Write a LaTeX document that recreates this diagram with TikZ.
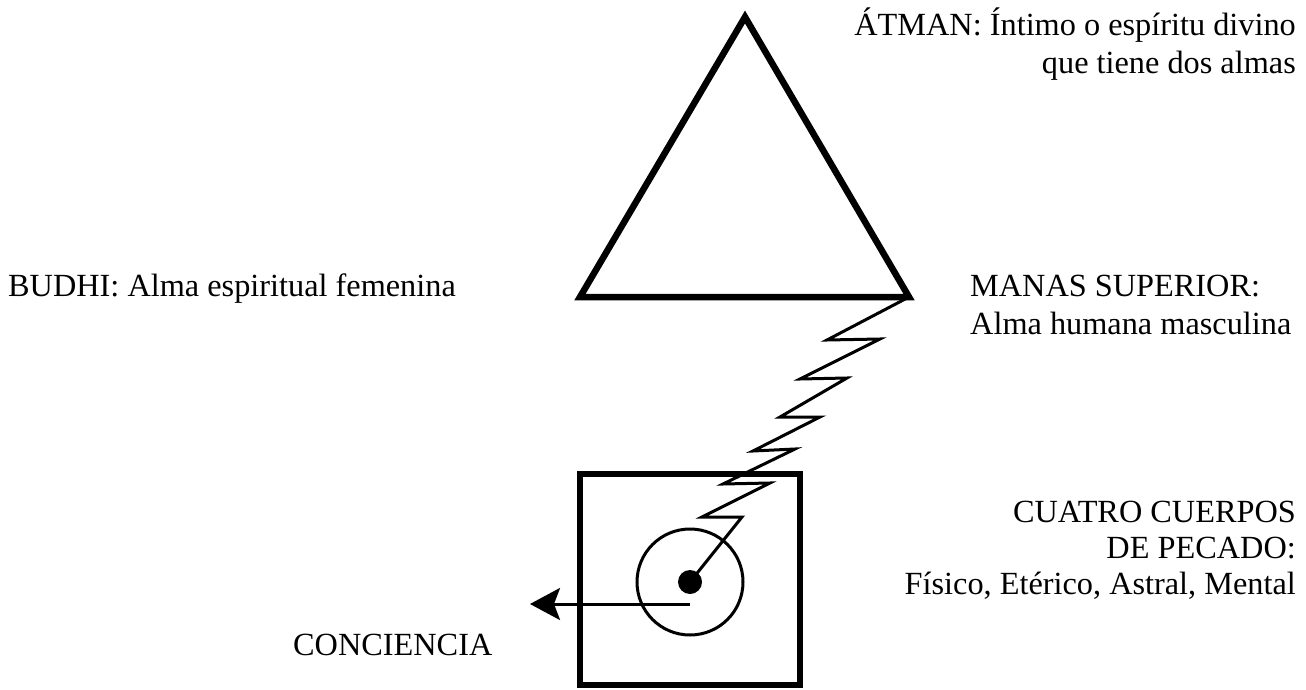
\documentclass[tikz,border=0pt]{standalone}
\usepackage{fontspec}
\setmainfont{Liberation Serif}
\usetikzlibrary{arrows.meta}
\begin{document}
\begin{tikzpicture}[x=1pt,y=-1pt,
  thick6/.style={line width=6.5pt, line join=miter},
  thin3/.style={line width=3pt},
  lbl/.style={inner sep=0pt, font=\fontsize{32.3}{37}\selectfont}]
\useasboundingbox (0,0) rectangle (1306,690);
% triangle
\coordinate (apex) at (745,17);
\coordinate (bl) at (580,297);
\coordinate (br) at (909,297);
\draw[thick6] (apex) -- (bl) -- (br) -- cycle;
% square
\draw[thick6] (580,474) rectangle (800,685);
% circle and dot
\coordinate (ctr) at (690,582);
\draw[thin3] (ctr) circle[radius=53];
\fill (ctr) circle[radius=12];
\node[inner sep=0pt, minimum size=0pt] (dot) at (ctr) {};
% zigzag
\draw[thin3, line join=miter] (br) -- (827,340) -- (880,339) -- (800,379) -- (847,378)
  -- (780,417) -- (820,417) -- (753,451) -- (795,449) -- (723,484) -- (770,483)
  -- (702,517) -- (742,517) -- (dot.center);
% arrow
\coordinate (arrstart) at (690,604);
\coordinate (arrend) at (530,604);
\draw[thin3, -{Stealth[length=30pt, width=32pt, inset=6pt]}] (arrstart) -- (arrend);
% labels
\node[lbl, anchor=base east] (atman1) at (1296,36) {ÁTMAN: Íntimo o espíritu divino};
\node[lbl, anchor=base east] (atman2) at (1296,74) {que tiene dos almas};
\node[lbl, anchor=base west] (budhi) at (8,296) {BUDHI: Alma espiritual femenina};
\node[lbl, anchor=base west] (manas1) at (970,296) {MANAS SUPERIOR:};
\node[lbl, anchor=base west] (manas2) at (970,334) {Alma humana masculina};
\node[lbl, anchor=base east] (cuatro1) at (1296,522) {CUATRO CUERPOS};
\node[lbl, anchor=base east] (cuatro2) at (1296,558) {DE PECADO:};
\node[lbl, anchor=base east] (cuatro3) at (1296,594) {Físico, Etérico, Astral, Mental};
\node[lbl, anchor=base west] (conc) at (293,655) {CONCIENCIA};
\end{tikzpicture}
\end{document}
